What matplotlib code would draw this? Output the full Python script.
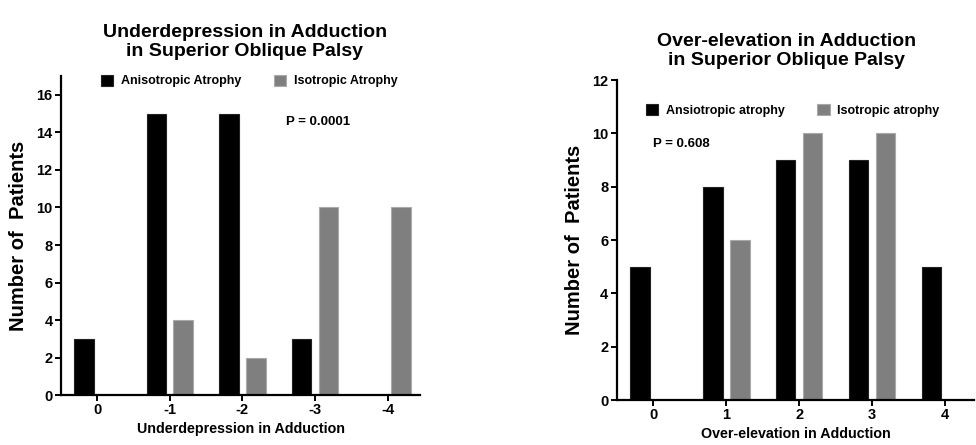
import matplotlib.pyplot as plt
import numpy as np

plt.rcParams['font.family'] = ['Liberation Sans', 'DejaVu Sans']
plt.rcParams['font.weight'] = 'bold'

# left panel: underdepression
under_labels = ['0', '-1', '-2', '-3', '-4']
under_aniso = [3, 15, 15, 3, 0]
under_iso = [0, 4, 2, 10, 10]

# right panel: over-elevation
over_labels = ['0', '1', '2', '3', '4']
over_aniso = [5, 8, 9, 9, 5]
over_iso = [0, 6, 10, 10, 0]

black = '#000000'
gray = '#7f7f7f'
w = 0.27
off = 0.185

fig = plt.figure(figsize=(9.76, 4.45), dpi=100)
ax1 = fig.add_axes([0.0625, 0.112, 0.368, 0.717])
ax2 = fig.add_axes([0.632, 0.101, 0.366, 0.719])


def panel(ax, labels, a, b, names, ylim, ymax_tick, xlabel):
    x = np.arange(len(labels))
    ax.bar(x - off, a, w, color=black, edgecolor='#222222', linewidth=0.8, label=names[0])
    ax.bar(x + off, b, w, color=gray, edgecolor='#aaaaaa', linewidth=0.8, label=names[1])
    ax.set_xticks(x)
    ax.set_xticklabels(labels, fontsize=10.5, fontweight='bold')
    ax.set_xlim(-0.5, 4.45)
    ax.set_ylim(0, ylim)
    yt = list(range(0, ymax_tick + 1, 2))
    ax.set_yticks(yt)
    ax.set_yticklabels([str(v) for v in yt], fontsize=10.5, fontweight='bold')
    for s in ['top', 'right']:
        ax.spines[s].set_visible(False)
    for s in ['left', 'bottom']:
        ax.spines[s].set_linewidth(1.6)
    ax.tick_params(width=1.4, length=4, pad=2)
    ax.set_xlabel(xlabel, fontsize=10.3, fontweight='bold', labelpad=3)
    ax.set_ylabel('Number of  Patients', fontsize=14.5, fontweight='bold', labelpad=6)


panel(ax1, under_labels, under_aniso, under_iso,
      ['Anisotropic Atrophy', 'Isotropic Atrophy'], 17, 16, 'Underdepression in Adduction')
panel(ax2, over_labels, over_aniso, over_iso,
      ['Ansiotropic atrophy', 'Isotropic atrophy'], 12, 12, 'Over-elevation in Adduction')
ax2.set_xlim(-0.5, 4.4)

for ax, bb in [(ax1, (0.08, 1.04)), (ax2, (0.05, 0.96))]:
    ax.legend(loc='upper left', bbox_to_anchor=bb, ncol=2, frameon=False,
              handlelength=1.0, handleheight=1.0, columnspacing=2.6, handletextpad=0.6,
              prop={'weight': 'bold', 'size': 9})

ax1.text(2.6, 14.4, 'P = 0.0001', fontsize=9.5, fontweight='bold')
ax2.text(0.0, 9.5, 'P = 0.608', fontsize=9.5, fontweight='bold')

fig.text(0.251, 0.905, 'Underdepression in Adduction\nin Superior Oblique Palsy',
         ha='center', va='center', fontsize=14, fontweight='bold', linespacing=1.15)
fig.text(0.806, 0.885, 'Over-elevation in Adduction\nin Superior Oblique Palsy',
         ha='center', va='center', fontsize=14, fontweight='bold', linespacing=1.15)

fig.savefig('out.png', dpi=100)
